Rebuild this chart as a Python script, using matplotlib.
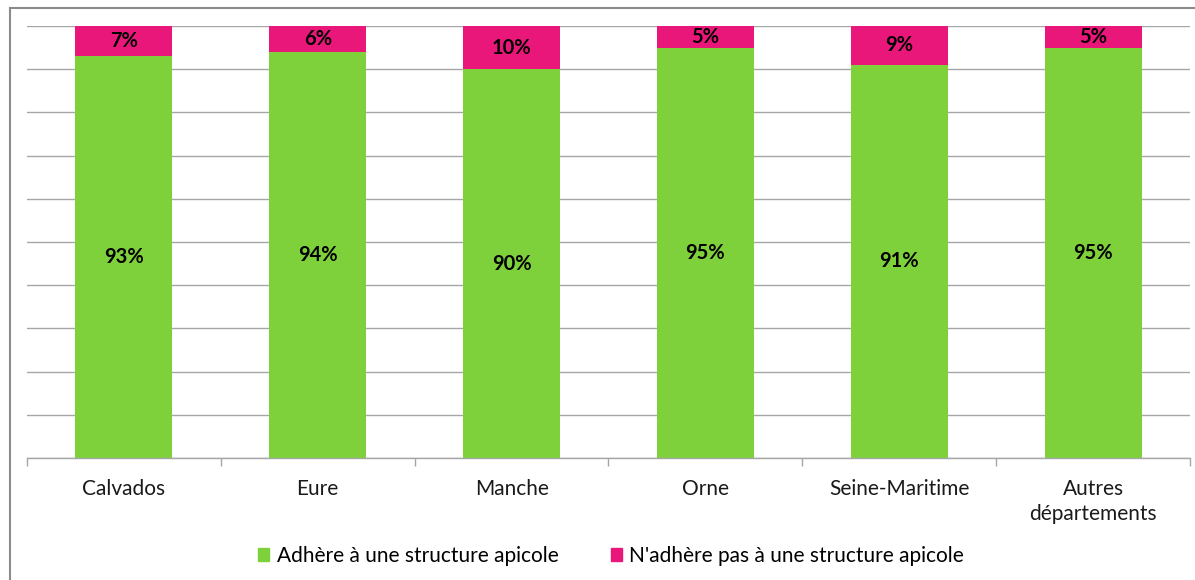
import matplotlib
matplotlib.use("Agg")
import matplotlib.pyplot as plt
from matplotlib.lines import Line2D
import numpy as np

categories = ["Calvados", "Eure", "Manche", "Orne", "Seine-Maritime", "Autres\ndépartements"]
adhere = [93, 94, 90, 95, 91, 95]
non_adhere = [7, 6, 10, 5, 9, 5]
series_names = ["Adhère à une structure apicole", "N'adhère pas à une structure apicole"]

green = "#7ED13B"
pink = "#EA177B"

plt.rcParams['font.family'] = ['Lato', 'DejaVu Sans']

W, H = 1195, 580
fig = plt.figure(figsize=(W/100, H/100), dpi=100)
ax = fig.add_axes([27/W, 1-458/H, (1190-27)/W, (458-26)/H])

x = np.arange(len(categories))
b1 = ax.bar(x, adhere, width=0.5, color=green, edgecolor='none', label=series_names[0])
b2 = ax.bar(x, non_adhere, width=0.5, bottom=adhere, color=pink, edgecolor='none', label=series_names[1])

for xi, a, n in zip(x, adhere, non_adhere):
    ax.text(xi, a/2, f"{a}%", ha='center', va='center', fontsize=14.5, fontweight='bold', color='black')
    ax.text(xi, a + n/2, f"{n}%", ha='center', va='center', fontsize=14.5, fontweight='bold', color='black')

ax.set_xlim(-0.5, len(categories)-0.5)
ax.set_ylim(0, 100)
ax.set_yticks(np.arange(0, 101, 10))
ax.yaxis.grid(True, color='#A6A6A6', linewidth=1)
ax.set_axisbelow(True)
ax.tick_params(axis='y', left=False, labelleft=False)
for s in ['left', 'right', 'top']:
    ax.spines[s].set_visible(False)
ax.spines['bottom'].set_color('#A6A6A6')
ax.spines['bottom'].set_linewidth(1)

ax.set_xticks(x)
ax.set_xticklabels(categories, fontsize=15, color='#1a1a1a', linespacing=1.3)
ax.tick_params(axis='x', length=0, pad=15)
ax.set_xticks(np.arange(-0.5, len(categories), 1), minor=True)
ax.tick_params(axis='x', which='minor', length=6, color='#A6A6A6', width=1)

handles = [plt.Rectangle((0, 0), 1, 1, color=green), plt.Rectangle((0, 0), 1, 1, color=pink)]
fig.legend(handles, series_names, loc='center', bbox_to_anchor=(611/W, 1-556/H), ncol=2,
           frameon=False, fontsize=15, handlelength=0.55, handleheight=0.55,
           handletextpad=0.35, columnspacing=2.5)

# outer border (partially visible)
fig.add_artist(Line2D([10/W, 10/W], [0, 1-8/H], color='#8C8C8C', linewidth=1.5, transform=fig.transFigure))
fig.add_artist(Line2D([10/W, 1], [1-8/H, 1-8/H], color='#8C8C8C', linewidth=1.5, transform=fig.transFigure))

fig.savefig("out.png", dpi=100)
